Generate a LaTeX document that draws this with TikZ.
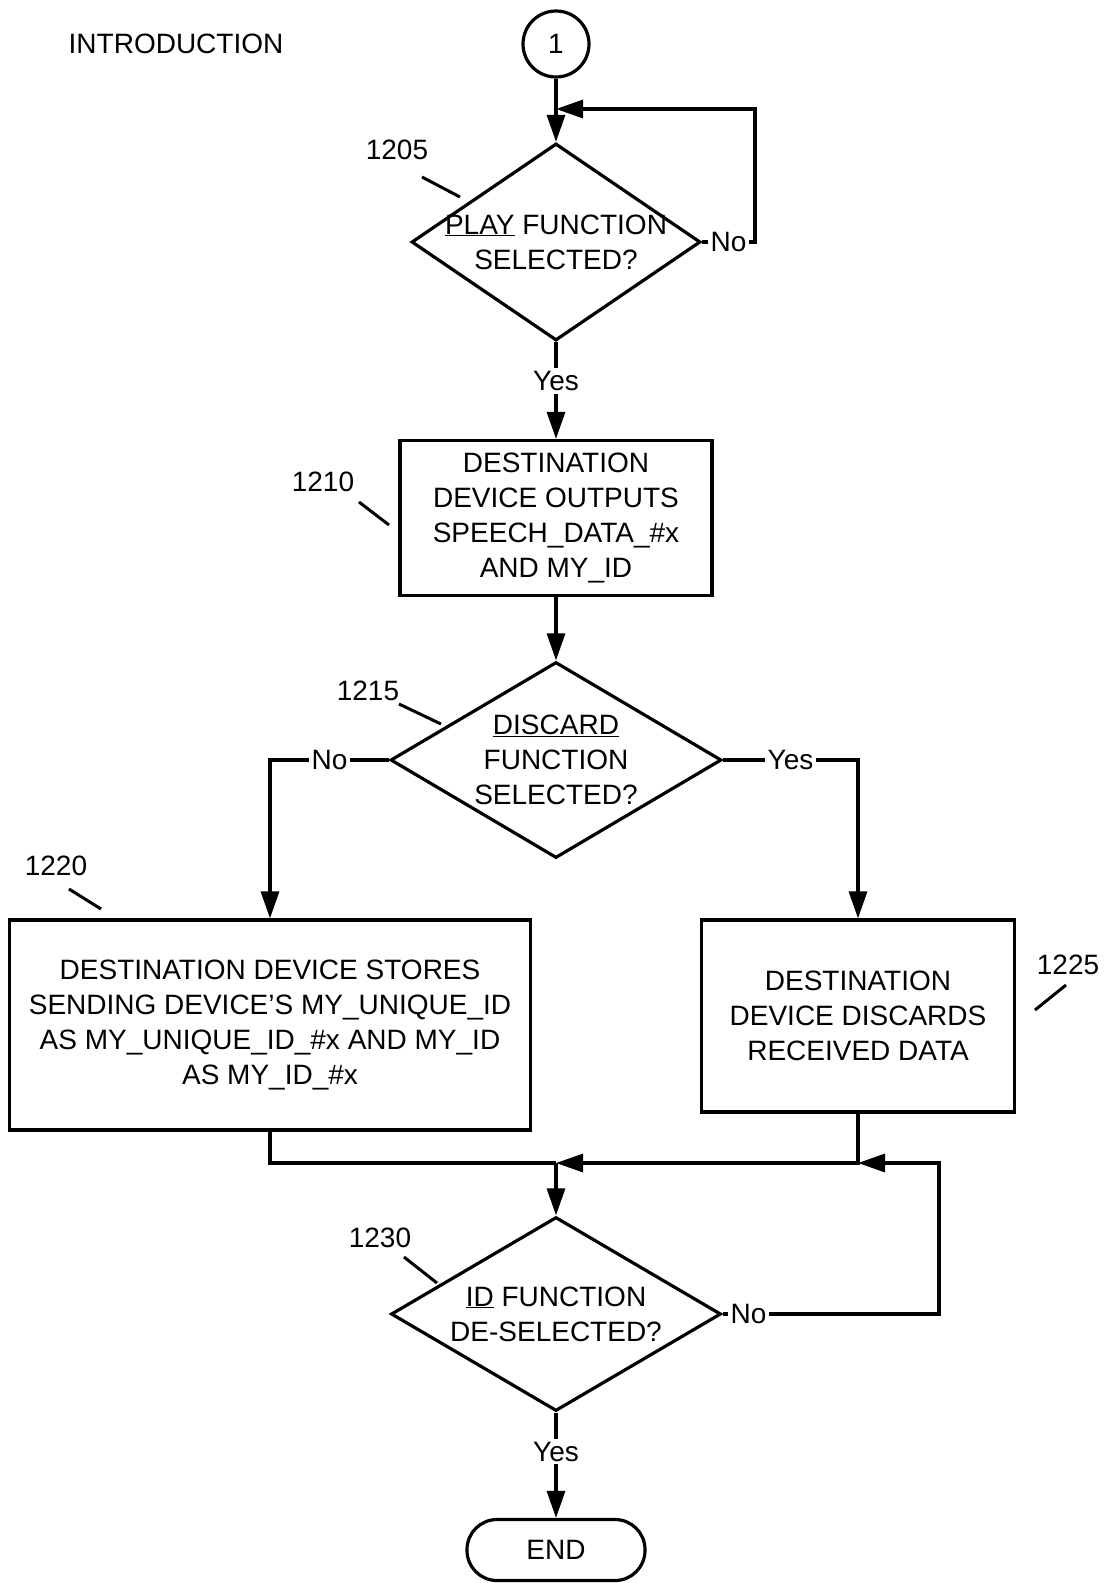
\documentclass[tikz,border=0pt]{standalone}
\usepackage{fontspec}
\setmainfont{Liberation Sans}
\usetikzlibrary{shapes.geometric,arrows.meta}
\begin{document}
\begin{tikzpicture}[x=1pt,y=-1pt,
    every node/.style={font=\fontsize{28}{35}\selectfont},
    txt/.style={align=center,inner sep=0pt},
    line/.style={line width=3.2pt},
    arr/.style={line width=3.2pt,-{Triangle[length=27pt,width=18pt]}},
    lead/.style={line width=3pt},
    lbl/.style={fill=white,inner sep=3pt},
    connector/.style={draw,circle,line width=3.2pt,minimum size=66pt,inner sep=0pt},
    decision/.style={draw,diamond,line width=3.2pt,inner sep=0pt},
    process/.style={draw,rectangle,line width=3.2pt,align=center,inner sep=0pt},
    terminal/.style={draw,rectangle,rounded corners=30pt,line width=3.2pt}]
    \useasboundingbox (0,0) rectangle (1110,1583);
    % start
    \node[txt] (intro) at (176,44) {INTRODUCTION};
    \node[connector] (c1) at (556,44) {1};
    % 1205
    \node[decision,minimum width=289pt,minimum height=197pt] (d1) at (556,242) {};
    \node[txt] (d1t) at (d1) {\underline{PLAY} FUNCTION\\SELECTED?};
    \node (n1205) at (397,150) {1205};
    \draw[lead] (422,177) -- (460,197);
    \coordinate (m1) at (556,109);
    \coordinate (r1) at (755,109);
    \draw[arr] (c1.south) -- (d1.north);
    \draw[arr] (d1.east) -- node[lbl]{No} (d1.east -| r1) -- (r1) -- (m1);
    % 1210
    \node[process,minimum width=312pt,minimum height=155pt] (b1) at (556,518)
        {DESTINATION\\DEVICE OUTPUTS\\SPEECH\_DATA\_\#x\\AND MY\_ID};
    \node (n1210) at (323,482) {1210};
    \draw[lead] (359,502) -- (389,525);
    \draw[arr] (d1.south) -- node[lbl,pos=0.4]{Yes} (b1.north);
    % 1215
    \node[decision,minimum width=331pt,minimum height=196pt] (d2) at (556,760) {};
    \node[txt] (d2t) at (d2) {\underline{DISCARD}\\FUNCTION\\SELECTED?};
    \node (n1215) at (368,691) {1215};
    \draw[lead] (399,704) -- (441,724);
    \draw[arr] (b1.south) -- (d2.north);
    % 1220 and 1225
    \node[process,minimum width=521pt,minimum height=210pt] (b2) at (270,1025)
        {DESTINATION DEVICE STORES\\SENDING DEVICE’S MY\_UNIQUE\_ID\\AS MY\_UNIQUE\_ID\_\#x AND MY\_ID\\AS MY\_ID\_\#x};
    \node (n1220) at (56,866) {1220};
    \draw[lead] (69,889) -- (101,909);
    \node[process,minimum width=313pt,minimum height=192pt] (b3) at (858,1016)
        {DESTINATION\\DEVICE DISCARDS\\RECEIVED DATA};
    \node (n1225) at (1068,965) {1225};
    \draw[lead] (1066,985) -- (1035,1010);
    \draw[arr] (d2.west) -| node[lbl,pos=0.25]{No} (b2.north);
    \draw[arr] (d2.east) -| node[lbl,pos=0.25]{Yes} (b3.north);
    % merge
    \coordinate (m2) at (556,1163);
    \coordinate (r2) at (939,1163);
    \draw[line] (b2.south) |- (m2);
    \draw[arr] (b3.south) |- (m2);
    % 1230
    \node[decision,minimum width=330pt,minimum height=194pt] (d3) at (556,1314) {};
    \node[txt] (d3t) at (d3) {\underline{ID} FUNCTION\\DE-SELECTED?};
    \node (n1230) at (380,1238) {1230};
    \draw[lead] (404,1257) -- (437,1283);
    \draw[arr] (m2) -- (d3.north);
    \draw[arr] (d3.east) -- node[lbl,pos=0.12]{No} (d3.east -| r2) -- (r2) -- (b3.south |- m2);
    % end
    \node[terminal,minimum width=178pt,minimum height=61pt] (end) at (556,1550) {END};
    \draw[arr] (d3.south) -- node[lbl,pos=0.37]{Yes} (end.north);
\end{tikzpicture}
\end{document}
